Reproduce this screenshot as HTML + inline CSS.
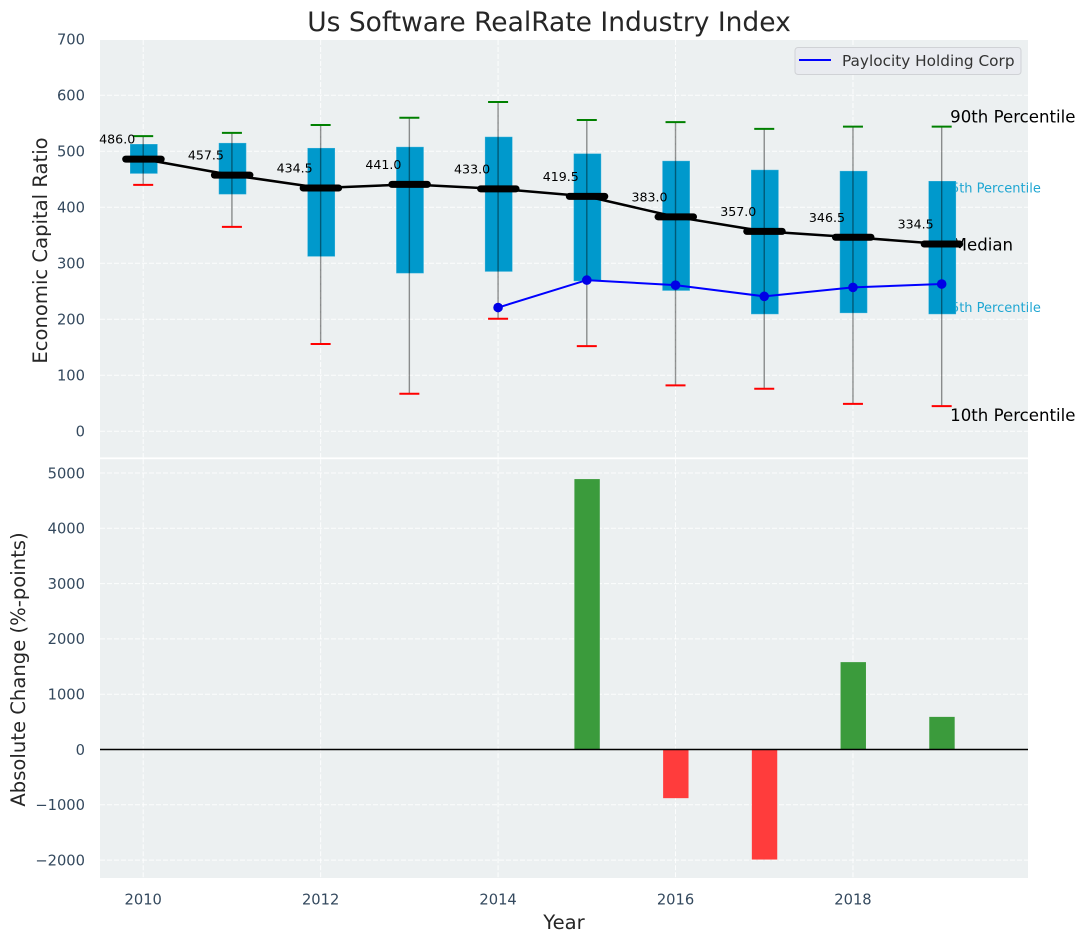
<!DOCTYPE html>
<html lang="en">
<head>
<meta charset="utf-8">
<title>Us Software RealRate Industry Index</title>
<style>
html,body{margin:0;padding:0;background:#fff;width:1085px;height:942px;overflow:hidden}
svg{display:block;font-family:"DejaVu Sans","Liberation Sans",sans-serif}
</style>
</head>
<body>
<svg id="chart" xmlns="http://www.w3.org/2000/svg" width="1085" height="942" viewBox="0 0 1085 942">
  <rect x="100" y="40" width="928" height="417.4" fill="#ecf0f1"/>
  <rect x="100" y="459.2" width="928" height="418.8" fill="#ecf0f1"/>
  <g id="grid"></g>
  <g id="ticks"></g>
  <text x="549" y="31" font-size="26.5" fill="#262626" text-anchor="middle">Us Software RealRate Industry Index</text>
  <text transform="translate(47,250.5) rotate(-90)" font-size="19.6" fill="#262626" text-anchor="middle">Economic Capital Ratio</text>
  <text transform="translate(25,669.5) rotate(-90)" font-size="19.6" fill="#262626" text-anchor="middle">Absolute Change (%-points)</text>
  <text x="564" y="929" font-size="19.6" fill="#262626" text-anchor="middle">Year</text>
  <g id="bands"></g>
  <g id="marks"></g>
  <g id="bars"></g>
  <line x1="100" x2="1028" y1="749.5" y2="749.5" stroke="#000" stroke-width="1.4"/>
  <g>
    <rect x="795" y="47.5" width="226" height="27" rx="3" fill="#e9ebf0" stroke="#d0d2d6" stroke-width="1"/>
    <line x1="799" x2="831" y1="60" y2="60" stroke="#0000ff" stroke-width="2"/>
    <text x="842" y="66" font-size="15.3" fill="#333">Paylocity Holding Corp</text>
  </g>
</svg>
<script>
const years = [2010, 2011, 2012, 2013, 2014, 2015, 2016, 2017, 2018, 2019];
const p90 = [527, 533, 547, 560, 588, 556, 552, 540, 544, 544];
const p75 = [513, 515, 506, 508, 526, 496, 483, 467, 465, 447];
const medians = [486, 457.5, 434.5, 441, 433, 419.5, 383, 357, 346.5, 334.5];
const p25 = [460, 423, 312, 282, 285, 268, 251, 209, 211, 209];
const p10 = [440, 365, 156, 67, 201, 152, 82, 76, 49, 45];
const companyYears = [2014, 2015, 2016, 2017, 2018, 2019];
const companyValues = [221, 270, 261, 241, 257, 263];
const changeYears = [2015, 2016, 2017, 2018, 2019];
const changeValues = [4890, -880, -1990, 1580, 590];
const topTicks = [0, 100, 200, 300, 400, 500, 600, 700];
const bottomTicks = [-2000, -1000, 0, 1000, 2000, 3000, 4000, 5000];
const xTicks = [2010, 2012, 2014, 2016, 2018];

const NS = 'http://www.w3.org/2000/svg';
function xAxis(year) { return 143.2 + (year - 2010) * 88.72; }
function yTop(v) { return 431.3 - v * 0.56; }
function yBottom(v) { return 749.5 - v * 0.0553; }
function mk(tag, attrs, parent, txt) {
  const e = document.createElementNS(NS, tag);
  for (const k in attrs) e.setAttribute(k, attrs[k]);
  if (txt !== undefined) e.textContent = txt;
  parent.appendChild(e);
  return e;
}
const grid = document.getElementById('grid');
const ticks = document.getElementById('ticks');
const bands = document.getElementById('bands');
const marks = document.getElementById('marks');
const bars = document.getElementById('bars');
const gridStyle = {stroke: '#fff', 'stroke-width': 1, 'stroke-dasharray': '5 2', 'stroke-opacity': 0.85};
const tickStyle = {'font-size': 14.7, fill: '#34495e'};

topTicks.forEach(function (t) {
  const g = mk('line', Object.assign({x1: 100, x2: 1028, y1: yTop(t), y2: yTop(t)}, gridStyle), grid);
  
  
  const l = mk('text', Object.assign({x: 85, y: yTop(t) + 5.3, 'text-anchor': 'end'}, tickStyle), ticks, String(t));
  
  
});
bottomTicks.forEach(function (t) {
  const g = mk('line', Object.assign({x1: 100, x2: 1028, y1: yBottom(t), y2: yBottom(t)}, gridStyle), grid);
  
  
  const l = mk('text', Object.assign({x: 85, y: yBottom(t) + 5.3, 'text-anchor': 'end'}, tickStyle), ticks, String(t).replace('-', '\u2212'));
  
  
});
xTicks.forEach(function (t) {
  const a = mk('line', Object.assign({x1: xAxis(t), x2: xAxis(t), y1: 40, y2: 457.4}, gridStyle), grid);
  
  
  const b = mk('line', Object.assign({x1: xAxis(t), x2: xAxis(t), y1: 459.2, y2: 878}, gridStyle), grid);
  
  
  const l = mk('text', Object.assign({x: xAxis(t), y: 904.5, 'text-anchor': 'middle'}, tickStyle), ticks, String(t));
  
  
});

const last = years.length - 1;
const lastX = xAxis(years[last]);
const a75 = mk('text', {x: lastX + 1, y: yTop(p75[last]) + 11.5, 'font-size': 13, fill: '#1fa6d2'}, bands, '75th Percentile');


const a25 = mk('text', {x: lastX + 1, y: yTop(p25[last]) - 2.5, 'font-size': 13, fill: '#1fa6d2'}, bands, '25th Percentile');


const aMed = mk('text', {x: lastX + 11, y: yTop(medians[last]) + 6.5, 'font-size': 16.6, fill: '#000'}, bands, 'Median');


const a90 = mk('text', {x: lastX + 8.5, y: yTop(p90[last]) - 4, 'font-size': 16.6, fill: '#000'}, bands, '90th Percentile');


const a10 = mk('text', {x: lastX + 8.5, y: yTop(p10[last]) + 15, 'font-size': 16.6, fill: '#000'}, bands, '10th Percentile');



years.forEach(function (yr, i) {
  const x = xAxis(yr);
  const box = mk('rect', {x: x - 13.2, y: yTop(p75[i]), width: 27.6, height: yTop(p25[i]) - yTop(p75[i]), fill: '#0099cc', stroke: '#fff', 'stroke-opacity': 0.25, 'stroke-width': 1}, marks);
  
  
  const wh = mk('line', {x1: x, x2: x, y1: yTop(p90[i]), y2: yTop(p10[i]), stroke: '#000', 'stroke-opacity': 0.42, 'stroke-width': 1.4}, marks);
  
  
  const hi = mk('line', {x1: x - 10, x2: x + 10, y1: yTop(p90[i]), y2: yTop(p90[i]), stroke: '#008000', 'stroke-width': 2}, marks);
  
  
  const lo = mk('line', {x1: x - 10, x2: x + 10, y1: yTop(p10[i]), y2: yTop(p10[i]), stroke: '#ff0000', 'stroke-width': 2}, marks);
  
  
});

const medianPath = mk('polyline', {points: years.map(function (y, i) { return xAxis(y) + ',' + yTop(medians[i]); }).join(' '), fill: 'none', stroke: '#000', 'stroke-width': 2.5}, marks);



years.forEach(function (yr, i) {
  const x = xAxis(yr);
  const m = mk('line', {x1: x - 17.5, x2: x + 18, y1: yTop(medians[i]), y2: yTop(medians[i]), stroke: '#000', 'stroke-width': 7, 'stroke-linecap': 'round'}, marks);
  
  
  const t = mk('text', {x: x - 26, y: yTop(medians[i]) - 15.5, 'font-size': 12.6, fill: '#000', 'text-anchor': 'middle'}, marks, medians[i].toFixed(1));
  
  
});

const companyLine = mk('polyline', {points: companyYears.map(function (y, i) { return xAxis(y) + ',' + yTop(companyValues[i]); }).join(' '), fill: 'none', stroke: '#0000ff', 'stroke-width': 2}, marks);


companyYears.forEach(function (y, i) {
  const c = mk('circle', {cx: xAxis(y), cy: yTop(companyValues[i]), r: 4.8, fill: '#0000e6'}, marks);
  
  
});

changeYears.forEach(function (y, i) {
  const v = changeValues[i];
  const top = Math.min(yBottom(v), yBottom(0));
  const r = mk('rect', {x: xAxis(y) - 12.4, y: top, width: 25.4, height: Math.abs(yBottom(v) - yBottom(0)), fill: v >= 0 ? '#3b9b3c' : '#ff3c3c'}, bars);
  
  
});
</script>
</body>
</html>
